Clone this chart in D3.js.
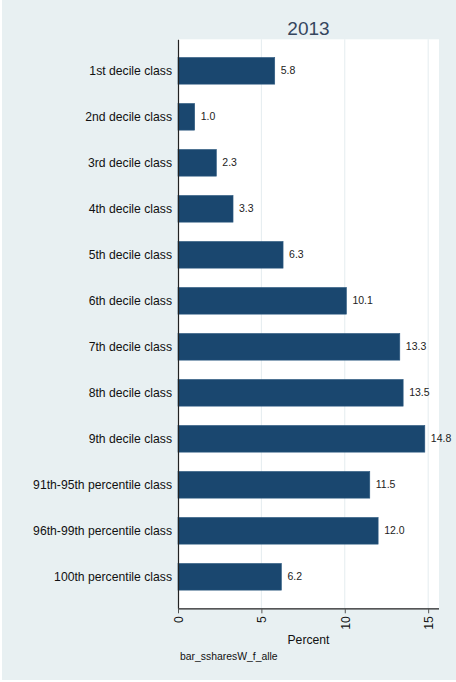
<!DOCTYPE html>
<html>
<head>
<meta charset="utf-8">
<script src="https://cdn.jsdelivr.net/npm/d3@7"></script>
<style>
  body { margin: 0; background: #fff; }
  svg { display: block; font-family: "Liberation Sans", Arial, sans-serif; }
</style>
</head>
<body>
<div id="chart"></div>
<script>
// categories and values
const categories = [
  "1st decile class", "2nd decile class", "3rd decile class", "4th decile class",
  "5th decile class", "6th decile class", "7th decile class", "8th decile class",
  "9th decile class", "91th-95th percentile class", "96th-99th percentile class",
  "100th percentile class"
];
const shares = [5.8, 1.0, 2.3, 3.3, 6.3, 10.1, 13.3, 13.5, 14.8, 11.5, 12.0, 6.2];
const xTicks = [0, 5, 10, 15];
const title = "2013";
const xTitle = "Percent";
const note = "bar_ssharesW_f_alle";

const W = 456, H = 682;
const plot = { left: 178, right: 439, top: 39.3, bottom: 608.3 };

const svg = d3.select("#chart").append("svg")
  .attr("width", W)
  .attr("height", H);

// graph region background
svg.append("rect")
  .attr("x", 2).attr("y", 0)
  .attr("width", W - 2).attr("height", 680)
  .attr("fill", "#e8f0f2");

// plot region
svg.append("rect")
  .attr("x", plot.left).attr("y", plot.top)
  .attr("width", plot.right - plot.left).attr("height", plot.bottom - plot.top)
  .attr("fill", "#ffffff");

const x = d3.scaleLinear()
  .domain([0, 15.65])
  .range([plot.left, plot.right]);

const y = d3.scaleBand()
  .domain(categories)
  .range([plot.top, plot.bottom])
  .paddingInner(0.42)
  .paddingOuter(0.395);

// grid lines
svg.append("g")
  .selectAll("line")
  .data(xTicks.filter(d => d > 0))
  .join("line")
  .attr("x1", d => x(d)).attr("x2", d => x(d))
  .attr("y1", plot.top).attr("y2", plot.bottom)
  .attr("stroke", "#e4ecef")
  .attr("stroke-width", 1);

// bars
svg.append("g")
  .selectAll("rect")
  .data(shares)
  .join("rect")
  .attr("x", x(0))
  .attr("y", (d, i) => y(categories[i]))
  .attr("width", d => x(d) - x(0))
  .attr("height", y.bandwidth())
  .attr("fill", "#1a476f")
  .attr("stroke", "#2d5a80")
  .attr("stroke-width", 0.6);

// value labels
svg.append("g")
  .selectAll("text")
  .data(shares)
  .join("text")
  .attr("x", d => x(d) + 6)
  .attr("y", (d, i) => y(categories[i]) + y.bandwidth() / 2)
  .attr("dy", "0.35em")
  .attr("font-size", 10.5)
  .attr("fill", "#222")
  .text(d => d.toFixed(1));

// y axis (category labels)
const yAxis = svg.append("g")
  .attr("transform", `translate(${plot.left},0)`)
  .call(d3.axisLeft(y).tickSize(0).tickPadding(6));
yAxis.select(".domain").attr("stroke", "#222").attr("stroke-width", 1.2);
yAxis.selectAll("text")
  .attr("font-size", 12.2)
  .attr("fill", "#111")
  .style("font-family", "'Liberation Sans', Arial, sans-serif");

// x axis
const xAxis = svg.append("g")
  .attr("transform", `translate(0,${plot.bottom})`)
  .call(d3.axisBottom(x).tickValues(xTicks).tickSize(5).tickFormat(d3.format("d")));
xAxis.select(".domain")
  .attr("d", `M${plot.left},0.5H${plot.right}`)
  .attr("stroke", "#222").attr("stroke-width", 1.2);
xAxis.selectAll(".tick line").attr("stroke", "#555");
xAxis.selectAll("text")
  .attr("transform", "rotate(-90)")
  .attr("x", -8).attr("y", 0)
  .attr("dy", "0.35em")
  .attr("text-anchor", "end")
  .attr("font-size", 12.2)
  .attr("fill", "#111")
  .style("font-family", "'Liberation Sans', Arial, sans-serif");

// title
svg.append("text")
  .attr("x", (plot.left + plot.right) / 2)
  .attr("y", 35)
  .attr("text-anchor", "middle")
  .attr("font-size", 19)
  .attr("fill", "#35465e")
  .text(title);

// x axis title
svg.append("text")
  .attr("x", (plot.left + plot.right) / 2)
  .attr("y", 644)
  .attr("text-anchor", "middle")
  .attr("font-size", 12.2)
  .attr("fill", "#111")
  .text(xTitle);

// note
svg.append("text")
  .attr("x", 180)
  .attr("y", 660)
  .attr("font-size", 10.4)
  .attr("fill", "#111")
  .text(note);
</script>
</body>
</html>
